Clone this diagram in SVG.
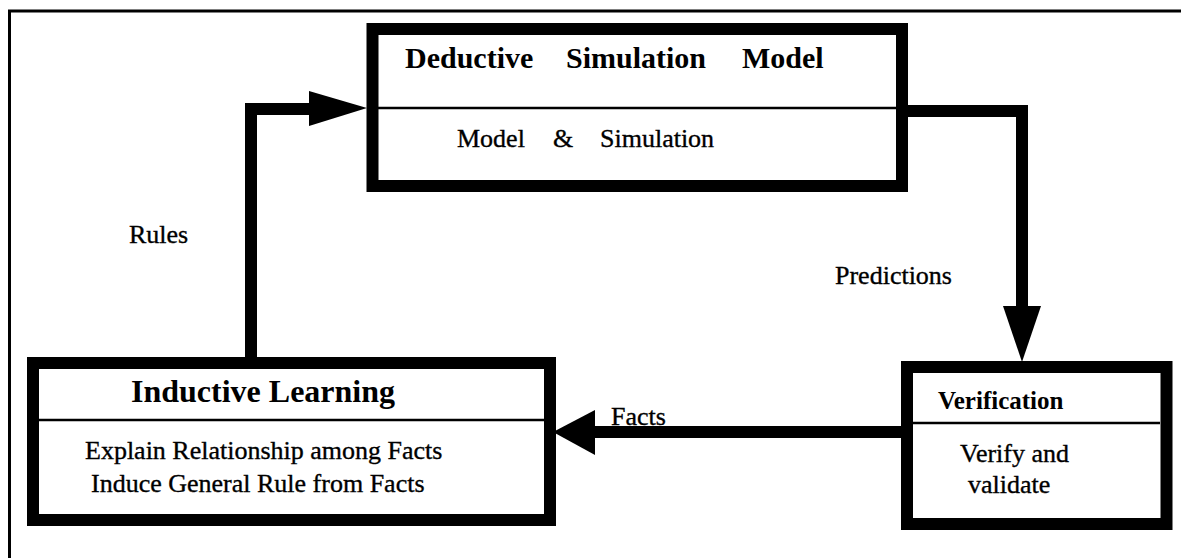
<svg xmlns="http://www.w3.org/2000/svg" width="1181" height="558" viewBox="0 0 1181 558">
<style>
.frame{fill:none;stroke:#000;stroke-width:3}
.box{fill:#fff;stroke:#000;stroke-width:12;stroke-linejoin:miter}
.div{stroke:#000;stroke-width:2.5}
.wire{fill:none;stroke:#000;stroke-width:12;stroke-linejoin:miter;stroke-linecap:butt}
.head{fill:#000}
.t{font-family:"Liberation Serif","Times New Roman",serif;fill:#000}
.title{font-weight:bold}
.txt{font-size:26px;stroke:#000;stroke-width:0.35}
</style>
<rect width="1181" height="558" fill="#fff"/>
<g id="frame">
<path class="frame" d="M9.5,558 V11 H1181"/>
</g>
<g id="connectors">
<path class="wire" d="M251,363 V109 H312"/>
<polygon class="head" points="309,91 367,108 309,126"/>
<path class="wire" d="M902,111 H1022 V309"/>
<polygon class="head" points="1003,306 1041,306 1022,362"/>
<path class="wire" d="M902,432 H592"/>
<polygon class="head" points="595,410 595,455 553,432"/>
</g>
<g id="deductive">
<rect class="box" x="372.5" y="29" width="529.5" height="157"/>
<line class="div" x1="378" y1="108" x2="896" y2="108"/>
<text class="t title" font-size="30" y="68"><tspan x="405">Deductive</tspan><tspan x="566">Simulation</tspan><tspan x="742">Model</tspan></text>
<text class="t txt" y="147"><tspan x="457">Model</tspan><tspan x="553">&amp;</tspan><tspan x="600">Simulation</tspan></text>
</g>
<g id="inductive">
<rect class="box" x="33" y="363" width="517" height="157"/>
<line class="div" x1="39" y1="420" x2="544" y2="420"/>
<text class="t title" font-size="32" x="131" y="402">Inductive Learning</text>
<text class="t txt" x="85" y="459">Explain Relationship among Facts</text>
<text class="t txt" x="91" y="492">Induce General Rule from Facts</text>
</g>
<g id="verification">
<rect class="box" x="907" y="367" width="259.5" height="157"/>
<line class="div" x1="913" y1="423" x2="1160" y2="423"/>
<text class="t title" font-size="25" x="938" y="409">Verification</text>
<text class="t txt" font-size="24" x="960" y="462">Verify and</text>
<text class="t txt" font-size="24" x="968" y="493">validate</text>
</g>
<g id="labels">
<text class="t txt" font-size="25" x="129" y="243">Rules</text>
<text class="t txt" font-size="25" x="835" y="284">Predictions</text>
<text class="t txt" font-size="25" x="611" y="425">Facts</text>
</g>
</svg>
